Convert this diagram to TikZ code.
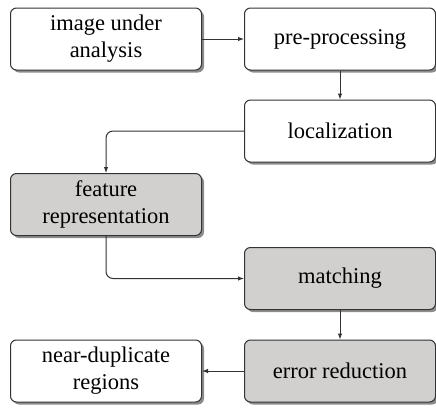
\documentclass[tikz,border=0pt]{standalone}
\usepackage{fontspec}
\newfontfamily\serfont{Liberation Serif}
\usetikzlibrary{shadows,arrows.meta}
\definecolor{boxgray}{HTML}{D2D0CE}
\definecolor{linec}{HTML}{333333}
\begin{document}
\begin{tikzpicture}[x=1pt,y=-1pt,
  stage/.style={draw=linec, line width=1pt, rounded corners=6pt, minimum width=191pt, minimum height=62pt,
    align=center, font=\serfont\fontsize{22.5}{27}\selectfont, fill=white,
    drop shadow={shadow xshift=2.5pt, shadow yshift=-2.5pt, fill=black, opacity=0.45}},
  shaded/.style={stage, fill=boxgray},
  conn/.style={draw=linec, line width=1pt, rounded corners=7pt, -{Latex[length=6pt,width=4.5pt]}}]
\useasboundingbox (0,0) rectangle (436,407);
\node[stage] (img) at (106,39) {image under\\analysis};
\node[stage] (pre) at (340,39) {pre-processing};
\node[stage] (loc) at (340,131) {localization};
\node[shaded] (feat) at (106,204.5) {feature\\representation};
\node[shaded] (match) at (340,278.5) {matching};
\node[shaded] (err) at (340,371) {error reduction};
\node[stage] (near) at (106,371) {near-duplicate\\regions};
\draw[conn] (img) -- (pre);
\draw[conn] (pre) -- (loc);
\draw[conn] (loc.west) -| (feat.north);
\draw[conn] (feat.south) |- (match.west);
\draw[conn] (match) -- (err);
\draw[conn] (err) -- (near);
\end{tikzpicture}
\end{document}
